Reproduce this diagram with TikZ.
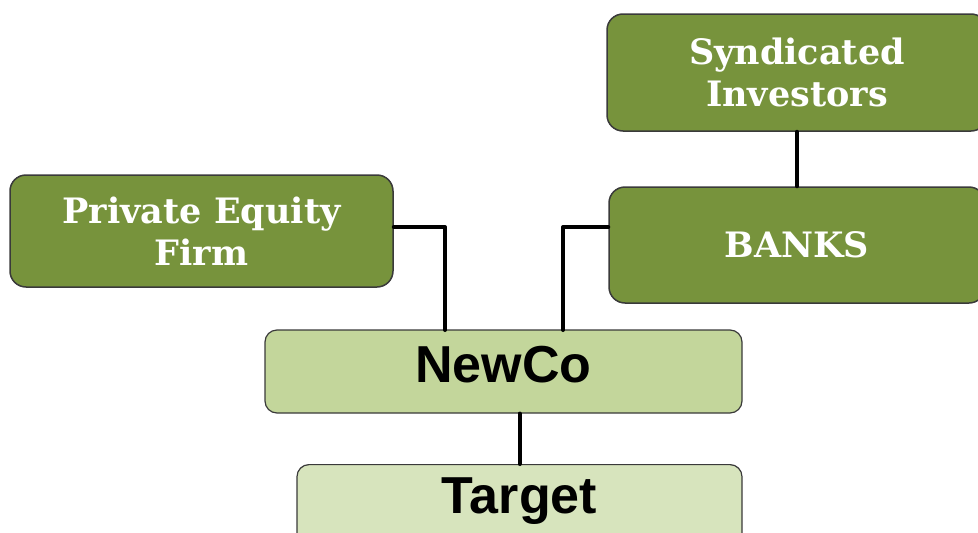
\documentclass[tikz,border=0pt]{standalone}
\usepackage{fontspec}
\newfontfamily\boxfont{DejaVu Serif}
\newfontfamily\cofont{Liberation Sans}
\definecolor{olivebox}{HTML}{77933C}
\definecolor{newcofill}{HTML}{C3D69B}
\definecolor{targetfill}{HTML}{D7E4BD}
\definecolor{edgegray}{HTML}{3A3A3A}
\tikzset{
  darkbox/.style={draw=edgegray, line width=1.5pt, fill=olivebox, rounded corners=16pt,
    text=white, align=center, font=\boxfont\bfseries\fontsize{35}{42}\selectfont},
  lightbox/.style={draw=edgegray, line width=1.2pt, rounded corners=12pt,
    text=black, font=\cofont\bfseries\fontsize{52}{55}\selectfont},
  link/.style={draw=black, line width=4pt}
}

\begin{document}
\begin{tikzpicture}[line cap=round,line join=round,x=1pt,y=-1pt]
      \useasboundingbox (0,0) rectangle (978,533);
      \clip (0,0) rectangle (978,533);

      % Add boxes
      \node[darkbox, minimum width=383pt, minimum height=112pt] (pe) at (201.5,231) {Private Equity\\Firm};
      \node[darkbox, minimum width=380pt, minimum height=117pt] (synd) at (797,72.5) {Syndicated\\Investors};
      \node[darkbox, minimum width=376pt, minimum height=116pt] (banks) at (797,245) {BANKS};
      \node[lightbox, fill=newcofill, minimum width=477pt, minimum height=83pt,
            text depth=14pt] (newco) at (503.5,371.5) {NewCo};
      \node[lightbox, fill=targetfill, anchor=north, minimum width=445pt, inner ysep=13pt,
            text depth=70pt] (target) at (519.5,464) {Target};

      % Add joins on NewCo
      \coordinate (ljoin) at (445,330);
      \coordinate (rjoin) at (563,330);

      % Add connectors
      \draw[link] ([yshift=4pt]pe.east) -| (ljoin);
      \draw[link] ([yshift=18pt]banks.west) -| (rjoin);
      \draw[link] (synd.south) -- (banks.north);
      \draw[link] (newco.south -| target.north) -- (target.north);
    \end{tikzpicture}
\end{document}
